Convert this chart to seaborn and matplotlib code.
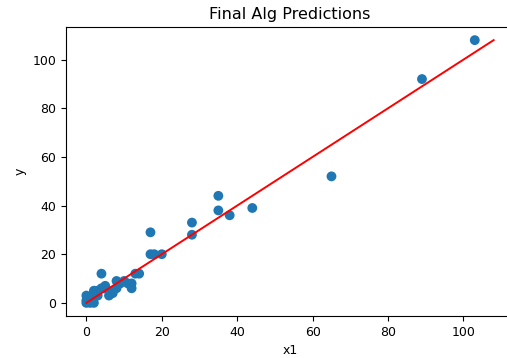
import matplotlib
matplotlib.use("Agg")
import matplotlib.pyplot as plt
import seaborn as sns
import pandas as pd

x1 = [0, 0, 0, 1, 1, 2, 2, 2, 3, 3, 4, 4, 5, 5, 6, 6, 7, 8, 8, 9, 10, 11, 12, 12, 13, 14,
      17, 17, 18, 20, 28, 28, 35, 35, 38, 44, 65, 89, 103]
y = [0, 1, 3, 0, 1, 0, 4, 5, 3, 5, 6, 12, 6, 7, 3, 5, 4, 6, 9, 8, 9, 8, 6, 8, 12, 12,
     20, 29, 20, 20, 28, 33, 38, 44, 36, 39, 52, 92, 108]
line_x = [0, 108]
line_y = [0, 108]

df = pd.DataFrame({"x1": x1, "y": y})
ldf = pd.DataFrame({"x1": line_x, "y": line_y})

plt.rcParams["font.family"] = ["DejaVu Sans"]
fig = plt.figure(figsize=(5.07, 3.58), dpi=100)
ax = fig.add_axes([66 / 507, 42 / 358, 448 / 507, 289 / 358])

sns.scatterplot(data=df, x="x1", y="y", ax=ax, color="#1f77b4", s=50,
                edgecolor="none", linewidth=0, zorder=2)
sns.lineplot(data=ldf, x="x1", y="y", ax=ax, color="red", linewidth=1.4, zorder=3)

ax.set_xticks([0, 20, 40, 60, 80, 100])
ax.set_yticks([0, 20, 40, 60, 80, 100])
ax.tick_params(labelsize=9)
ax.set_xlabel("x1", fontsize=9)
ax.set_ylabel("y", fontsize=9)
ax.set_title("Final Alg Predictions", fontsize=11.5)

fig.savefig("out.png", dpi=100)
